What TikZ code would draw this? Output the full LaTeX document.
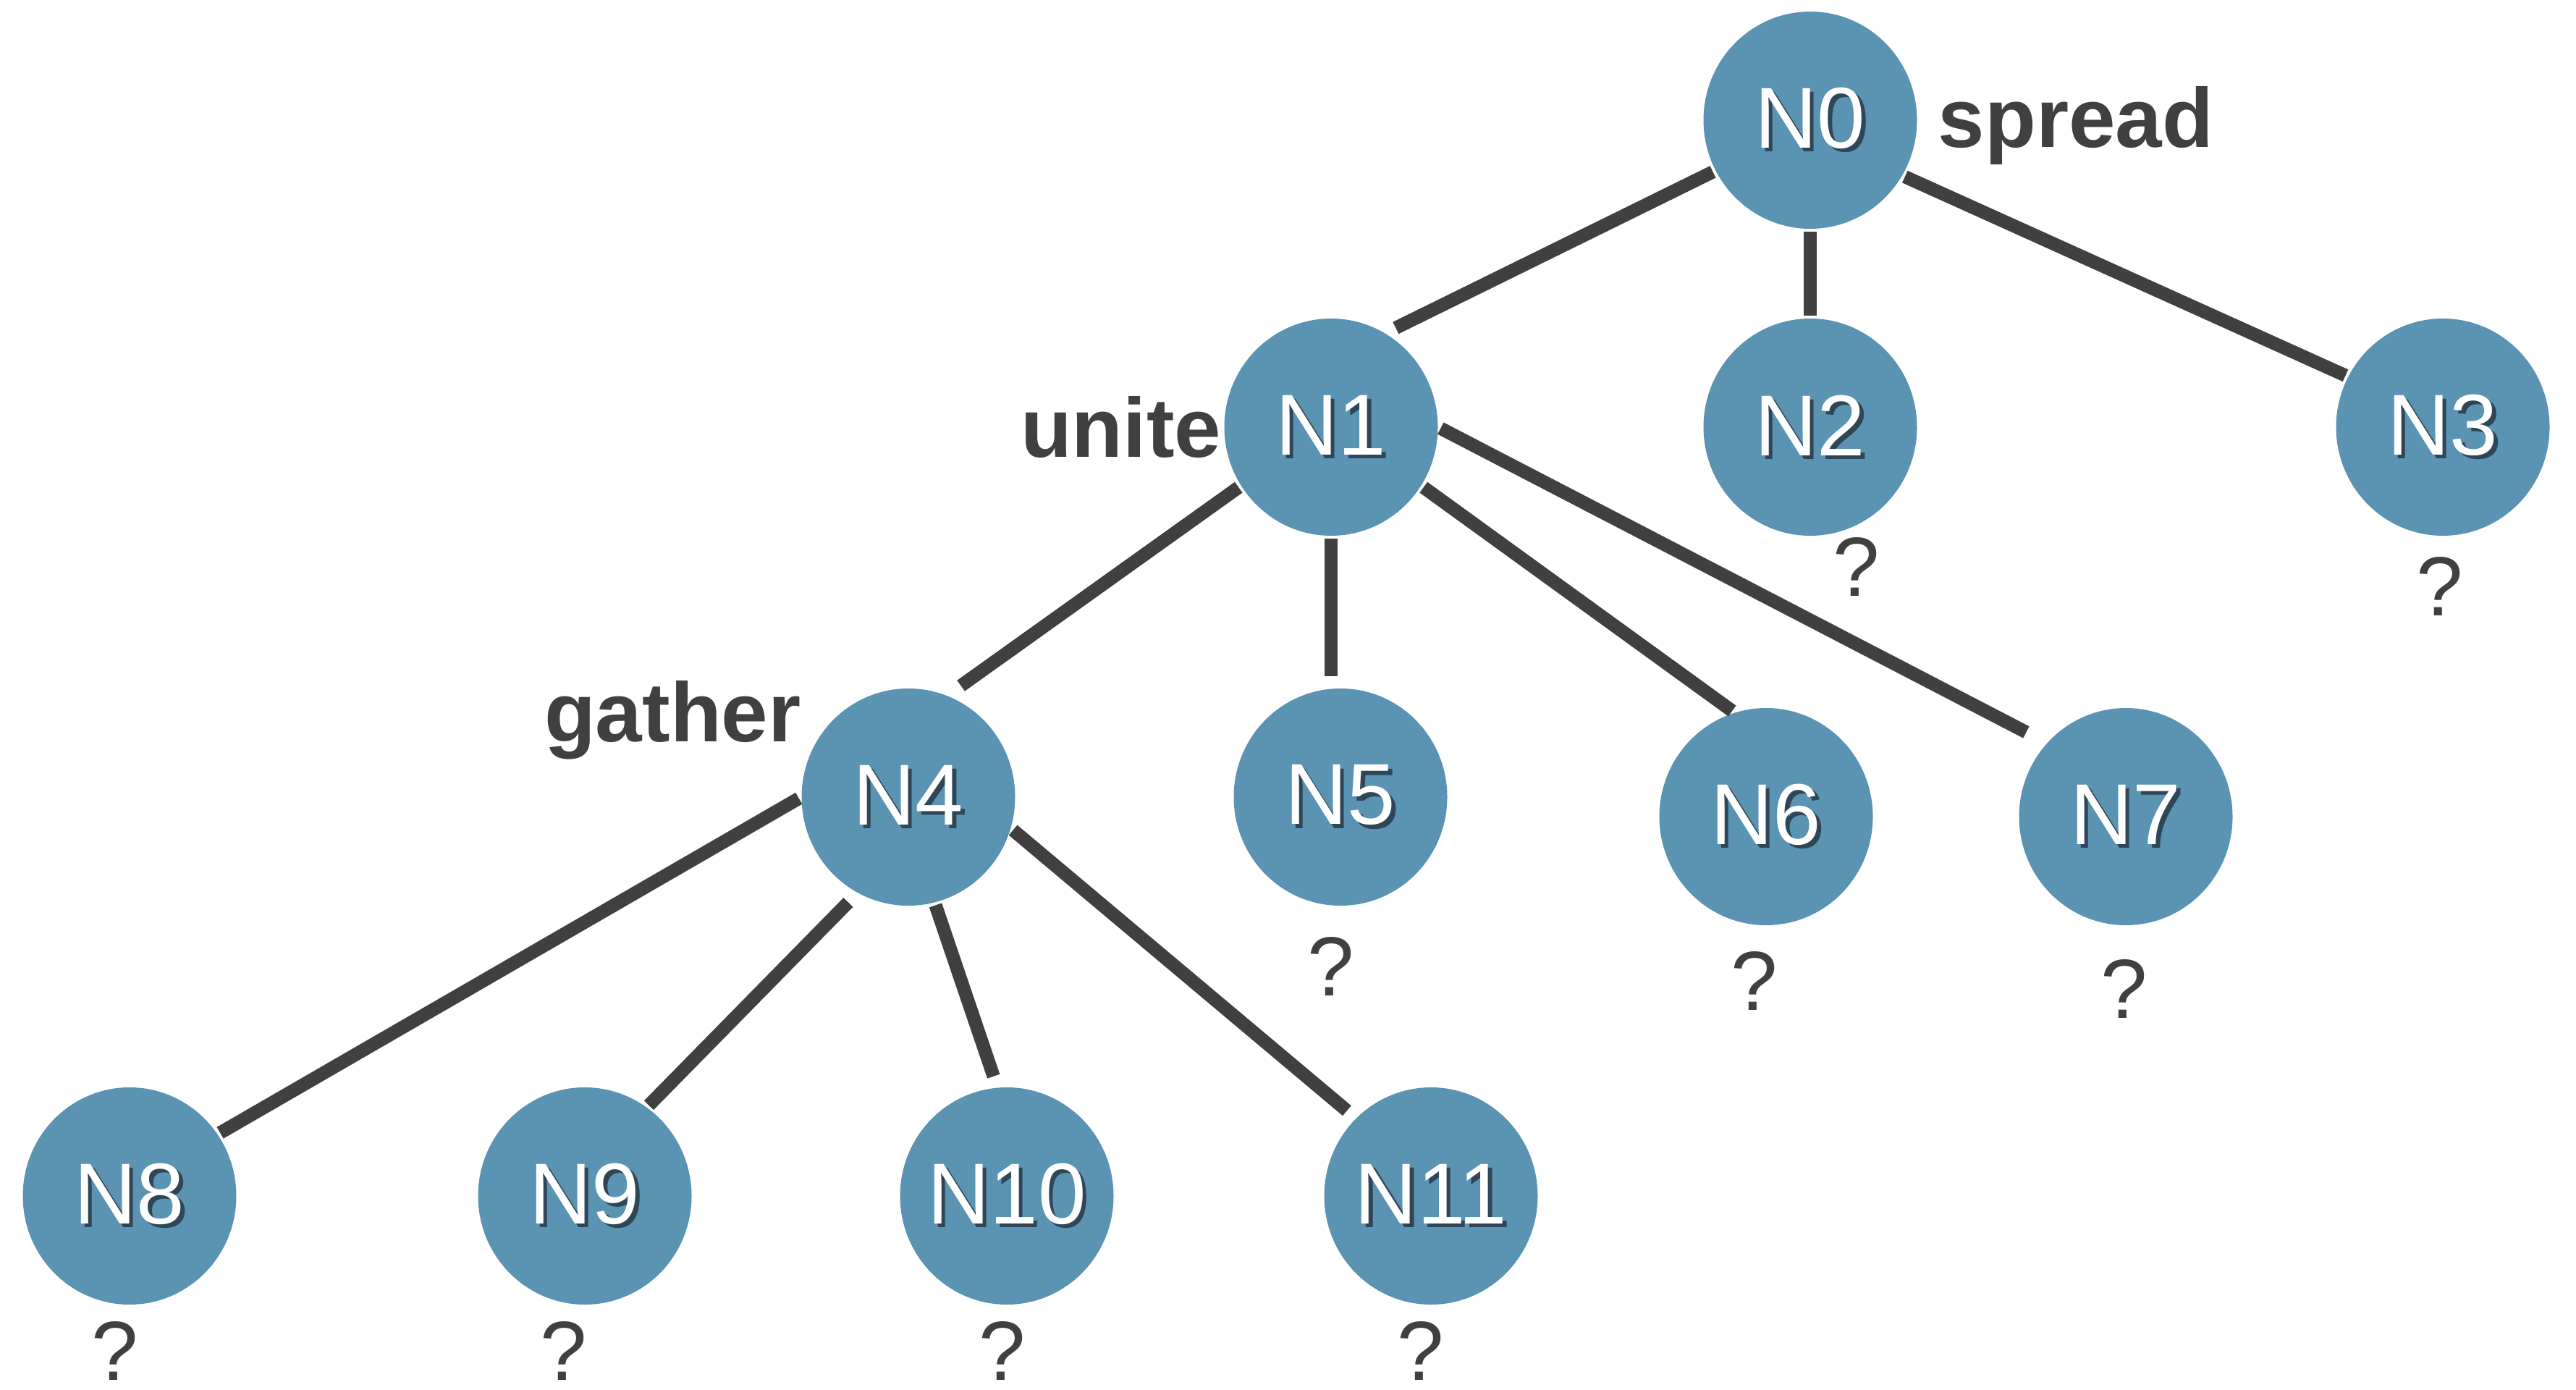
\documentclass[tikz,border=0pt]{standalone}
\usepackage{fontspec}
\setmainfont{Liberation Sans}
\usetikzlibrary{positioning, shapes.geometric}
\definecolor{nodeblue}{HTML}{5B93B3}
\definecolor{inkgray}{HTML}{404040}
\definecolor{textshade}{HTML}{2E4656}

% white label with a small dark drop shadow, kept out of the node size
\newcommand{\shadowed}[1]{\makebox[0pt]{\makebox[0pt][l]{\hspace{1.5pt}\raisebox{-1.5pt}{\textcolor{textshade}{#1}}}\textcolor{white}{#1}}}

\tikzset{
  treenode/.style={ellipse, fill=nodeblue, minimum width=2.95cm, minimum height=3.0cm,
                   inner sep=0pt, font=\fontsize{34}{40}\selectfont},
  link/.style={draw=inkgray, line width=5.2pt, shorten <=1pt, shorten >=1pt},
  tag/.style={text=inkgray, inner sep=0pt, font=\fontsize{33}{40}\selectfont\bfseries},
  qmark/.style={text=inkgray, inner sep=0pt, font=\fontsize{33}{40}\selectfont},
}

\begin{document}
\begin{tikzpicture}
  \useasboundingbox (0,0) rectangle (35.59,-19.20);

  % tree nodes
  \node[treenode] (n0) at (25.01,-1.66) {\shadowed{N0}};
  \node[treenode] (n1) at (18.39,-5.90) {\shadowed{N1}};
  \node[treenode] (n2) at (25.01,-5.90) {\shadowed{N2}};
  \node[treenode] (n3) at (33.75,-5.90) {\shadowed{N3}};
  \node[treenode] (n4) at (12.55,-11.01) {\shadowed{N4}};
  \node[treenode] (n5) at (18.52,-11.01) {\shadowed{N5}};
  \node[treenode] (n6) at (24.40,-11.28) {\shadowed{N6}};
  \node[treenode] (n7) at (29.37,-11.28) {\shadowed{N7}};
  \node[treenode] (n8) at (1.79,-16.52) {\shadowed{N8}};
  \node[treenode] (n9) at (8.08,-16.52) {\shadowed{N9}};
  \node[treenode] (n10) at (13.91,-16.52) {\shadowed{N10}};
  \node[treenode] (n11) at (19.77,-16.52) {\shadowed{N11}};

  % operation names
  \node[tag, right=0.28cm of n0, yshift=-0.08cm] (spread) {spread};
  \node[tag, left=0.03cm of n1] (unite) {unite};
  \node[tag, left=0.43cm of n4.north west] (gather) {gather};

  % unknown values under the leaves
  \node[qmark] (q2) at (25.65,-7.83) {?};
  \node[qmark] (q3) at (33.71,-8.10) {?};
  \node[qmark] (q5) at (18.39,-13.35) {?};
  \node[qmark] (q6) at (24.24,-13.55) {?};
  \node[qmark] (q7) at (29.35,-13.66) {?};
  \node[qmark] (q8) at (1.59,-18.66) {?};
  \node[qmark] (q9) at (7.79,-18.66) {?};
  \node[qmark] (q10) at (13.85,-18.66) {?};
  \node[qmark] (q11) at (19.63,-18.66) {?};

  % edges
  \draw[link, shorten >=0.16cm] (n0.208) -- (n1.60);
  \draw[link] (n0.south) -- (n2.north);
  \draw[link] (n0.329) -- (n3.152);
  \draw[link, shorten >=0.23cm] (n1.213) -- (n4.69);
  \draw[link, shorten >=0.16cm] (n1.south) -- (n1.south |- n5.north);
  \draw[link] (n1.327) -- (n6.107);
  \draw[link, shorten >=0.32cm] (n1.0) -- (n7.137);
  \draw[link] (n4.180) -- (n8.35);
  \draw[link, shorten <=0.18cm] (n4.242) -- (n9.55);
  \draw[link, shorten >=0.16cm] (n4.284) -- (n10.95);
  \draw[link, shorten >=0.16cm] (n4.343) -- (n11.134);
\end{tikzpicture}
\end{document}
